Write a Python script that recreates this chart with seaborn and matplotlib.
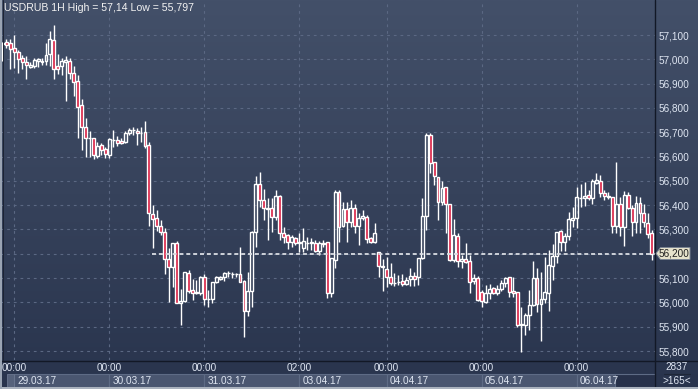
import numpy as np
import pandas as pd
import seaborn as sns
import matplotlib
matplotlib.use("Agg")
import matplotlib.pyplot as plt
from matplotlib.colors import LinearSegmentedColormap
from matplotlib.patches import Rectangle, Polygon
from matplotlib.transforms import blended_transform_factory

# ---------------- data (USDRUB, 1H candles) ----------------
opens = [57.065, 57.071, 57.066, 57.045, 57.029, 57.004, 56.988, 56.970, 56.974, 56.994,
         56.992, 56.994, 57.021, 57.079, 56.972, 56.972, 56.990, 56.992, 56.942, 56.911,
         56.812, 56.720, 56.676, 56.675, 56.602, 56.647, 56.631, 56.606, 56.668, 56.668,
         56.665, 56.661, 56.695, 56.709, 56.704, 56.696, 56.700, 56.647, 56.362, 56.346,
         56.314, 56.288, 56.177, 56.144, 56.243, 55.998, 56.005, 56.119, 56.051, 56.041,
         56.040, 56.103, 56.012, 56.012, 56.082, 56.096, 56.103, 56.119, 56.117, 56.116,
         56.116, 56.088, 55.965, 56.047, 56.291, 56.486, 56.421, 56.387, 56.387, 56.352,
         56.437, 56.286, 56.277, 56.247, 56.263, 56.246, 56.225, 56.246, 56.246, 56.245,
         56.212, 56.243, 56.247, 56.037, 56.174, 56.455, 56.314, 56.383, 56.332, 56.387,
         56.314, 56.346, 56.352, 56.263, 56.249, 56.206, 56.148, 56.136, 56.103, 56.081,
         56.084, 56.089, 56.075, 56.096, 56.108, 56.103, 56.181, 56.356, 56.688, 56.576,
         56.517, 56.414, 56.473, 56.403, 56.174, 56.273, 56.171, 56.177, 56.170, 56.089,
         56.099, 56.041, 56.001, 56.040, 56.058, 56.040, 56.055, 56.078, 56.103, 56.047,
         56.044, 55.909, 55.907, 55.948, 55.989, 56.099, 55.993, 56.014, 56.037, 56.149,
         56.191, 56.293, 56.247, 56.274, 56.339, 56.346, 56.430, 56.428, 56.440, 56.431,
         56.492, 56.499, 56.449, 56.436, 56.432, 56.315, 56.405, 56.311, 56.442, 56.387,
         56.329, 56.407, 56.366, 56.325, 56.284]
highs = [57.072, 57.084, 57.084, 57.100, 57.038, 57.018, 57.014, 56.990, 57.004, 57.007,
         57.007, 57.068, 57.116, 57.141, 57.021, 57.007, 57.014, 57.007, 56.972, 56.935,
         56.837, 56.757, 56.705, 56.676, 56.661, 56.657, 56.640, 56.677, 56.709, 56.684,
         56.677, 56.705, 56.716, 56.720, 56.717, 56.723, 56.746, 56.658, 56.400, 56.380,
         56.339, 56.305, 56.225, 56.243, 56.252, 56.055, 56.125, 56.133, 56.096, 56.092,
         56.108, 56.116, 56.051, 56.084, 56.109, 56.109, 56.126, 56.130, 56.126, 56.122,
         56.229, 56.092, 56.126, 56.292, 56.520, 56.537, 56.466, 56.428, 56.428, 56.462,
         56.442, 56.311, 56.280, 56.277, 56.270, 56.284, 56.305, 56.270, 56.263, 56.256,
         56.253, 56.256, 56.247, 56.181, 56.462, 56.462, 56.414, 56.414, 56.421, 56.405,
         56.366, 56.380, 56.359, 56.267, 56.325, 56.208, 56.177, 56.185, 56.163, 56.122,
         56.112, 56.116, 56.105, 56.140, 56.126, 56.181, 56.428, 56.695, 56.695, 56.576,
         56.517, 56.499, 56.473, 56.403, 56.342, 56.284, 56.195, 56.243, 56.195, 56.115,
         56.108, 56.051, 56.071, 56.074, 56.064, 56.071, 56.092, 56.105, 56.105, 56.103,
         56.044, 55.981, 55.955, 56.051, 56.170, 56.140, 56.124, 56.188, 56.215, 56.239,
         56.288, 56.298, 56.284, 56.370, 56.393, 56.476, 56.486, 56.494, 56.462, 56.507,
         56.533, 56.524, 56.462, 56.455, 56.435, 56.579, 56.432, 56.459, 56.455, 56.400,
         56.437, 56.435, 56.405, 56.369, 56.298]
lows = [56.994, 57.045, 56.959, 56.963, 56.942, 56.959, 56.919, 56.963, 56.965, 56.970,
        56.978, 56.977, 56.974, 56.920, 56.940, 56.935, 56.830, 56.919, 56.849, 56.675,
        56.627, 56.597, 56.597, 56.588, 56.593, 56.606, 56.593, 56.593, 56.640, 56.644,
        56.651, 56.657, 56.688, 56.688, 56.647, 56.661, 56.636, 56.315, 56.225, 56.295,
        56.277, 56.115, 56.002, 56.064, 55.996, 55.909, 56.003, 56.037, 56.009, 56.034,
        56.030, 55.989, 55.982, 55.997, 56.081, 56.092, 56.089, 56.105, 56.101, 56.105,
        56.084, 55.856, 55.945, 55.982, 56.229, 56.393, 56.339, 56.256, 56.291, 56.339,
        56.256, 56.245, 56.219, 56.229, 56.236, 56.208, 56.208, 56.215, 56.215, 56.208,
        56.195, 56.226, 56.018, 56.022, 56.141, 56.249, 56.309, 56.249, 56.309, 56.284,
        56.236, 56.339, 56.245, 56.245, 56.243, 56.103, 56.048, 56.064, 56.071, 56.067,
        56.071, 56.068, 56.071, 56.067, 56.067, 56.071, 56.177, 56.298, 56.533, 56.483,
        56.339, 56.400, 56.286, 56.171, 56.167, 56.147, 56.142, 56.163, 56.040, 56.075,
        56.005, 55.982, 55.998, 56.012, 56.034, 56.030, 56.048, 56.064, 56.023, 56.023,
        55.900, 55.797, 55.865, 55.886, 55.986, 55.961, 55.842, 55.996, 55.964, 56.092,
        56.161, 56.212, 56.211, 56.256, 56.311, 56.307, 56.391, 56.396, 56.421, 56.403,
        56.487, 56.435, 56.421, 56.424, 56.284, 56.286, 56.273, 56.232, 56.383, 56.273,
        56.286, 56.284, 56.311, 56.266, 56.174]
closes = [57.068, 57.060, 57.041, 57.029, 57.000, 56.990, 56.975, 56.977, 56.997, 57.001,
          56.990, 57.018, 57.084, 56.959, 56.959, 56.993, 56.997, 56.942, 56.908, 56.805,
          56.720, 56.675, 56.675, 56.606, 56.643, 56.627, 56.609, 56.672, 56.668, 56.657,
          56.657, 56.695, 56.709, 56.710, 56.695, 56.695, 56.644, 56.366, 56.343, 56.314,
          56.288, 56.177, 56.144, 56.243, 55.998, 56.005, 56.123, 56.047, 56.040, 56.040,
          56.105, 56.012, 56.013, 56.084, 56.105, 56.105, 56.119, 56.120, 56.116, 56.117,
          56.085, 55.965, 56.047, 56.291, 56.486, 56.421, 56.387, 56.386, 56.352, 56.437,
          56.284, 56.270, 56.249, 56.267, 56.243, 56.247, 56.252, 56.245, 56.247, 56.212,
          56.245, 56.242, 56.037, 56.181, 56.455, 56.311, 56.383, 56.332, 56.387, 56.314,
          56.346, 56.355, 56.259, 56.249, 56.286, 56.151, 56.146, 56.105, 56.081, 56.080,
          56.085, 56.075, 56.092, 56.108, 56.096, 56.181, 56.356, 56.688, 56.574, 56.520,
          56.414, 56.469, 56.403, 56.174, 56.277, 56.171, 56.177, 56.167, 56.085, 56.099,
          56.009, 56.005, 56.040, 56.055, 56.040, 56.055, 56.078, 56.099, 56.044, 56.037,
          55.909, 55.911, 55.948, 55.989, 56.099, 55.993, 56.012, 56.041, 56.153, 56.191,
          56.288, 56.247, 56.273, 56.343, 56.348, 56.432, 56.428, 56.437, 56.430, 56.499,
          56.503, 56.449, 56.437, 56.434, 56.315, 56.405, 56.311, 56.442, 56.387, 56.329,
          56.407, 56.366, 56.329, 56.280, 56.200]

price_ticks = [55.8, 55.9, 56.0, 56.1, 56.2, 56.3, 56.4, 56.5, 56.6, 56.7, 56.8, 56.9, 57.0, 57.1]
day_tick_idx = [3, 27, 51, 75, 97, 121, 145]
time_labels = ["00:00", "00:00", "00:00", "02:00", "00:00", "00:00", "00:00"]
date_labels = ["29.03.17", "30.03.17", "31.03.17", "03.04.17", "04.04.17", "05.04.17", "06.04.17"]
last_price = 56.200
title = "USDRUB 1H High = 57,14 Low = 55,797"
footer_top, footer_bottom = "2837", ">165<"

# ---------------- style ----------------
sns.set_theme(style="dark")
plt.rcParams["font.family"] = ["Liberation Sans", "DejaVu Sans"]

W, H = 698, 389
fig = plt.figure(figsize=(W / 100, H / 100), dpi=100)
fig.patch.set_facecolor("#3a465f")

# background gradient
bg = fig.add_axes([0, 0, 1, 1], zorder=0)
bg.axis("off")
cmap = LinearSegmentedColormap.from_list("g", ["#435069", "#29344d"])
bg.imshow(np.linspace(0, 1, 256).reshape(-1, 1), aspect="auto", cmap=cmap,
          extent=[0, 1, 0, 1], origin="upper")
bg.set_xlim(0, 1)
bg.set_ylim(0, 1)

AX_R = 655
ax = fig.add_axes([0, (H - 360) / H, AX_R / W, 360 / H], zorder=2)
ax.set_facecolor("none")
xlim = (-0.611, 164.79)
ax.set_xlim(*xlim)
ax.set_ylim(55.763, 57.244)

df = pd.DataFrame({"open": opens, "high": highs, "low": lows, "close": closes})
df["idx"] = np.arange(len(df))
df["top"] = df[["open", "close"]].max(axis=1)
df["bot"] = df[["open", "close"]].min(axis=1)
df["bull"] = df["close"] >= df["open"]

# grid
ax.set_yticks(price_ticks)
ax.set_yticklabels([f"{v:.3f}".replace(".", ",") for v in price_ticks])
ax.set_xticks(day_tick_idx)
ax.grid(True, color="#5b6883", lw=0.8, ls=(0, (2.5, 3.5)))
ax.yaxis.tick_right()
ax.tick_params(axis="y", length=0, pad=2.5, labelsize=7.2, labelcolor="#dfe6f2")
ax.tick_params(axis="x", length=0, labelbottom=False)
for s in ax.spines.values():
    s.set_visible(False)

# wicks (not through hollow bodies)
ax.vlines(df["idx"], df["low"], df["bot"], color="white", lw=1.0, zorder=3)
ax.vlines(df["idx"], df["top"], df["high"], color="white", lw=1.0, zorder=3)
# bodies
heights = (df["top"] - df["bot"]).clip(lower=0.0008)
fills = np.where(df["bull"], "none", "#d8183e")
ax.bar(df["idx"], heights, bottom=df["bot"], width=0.74, color=fills,
       edgecolor="white", linewidth=1.0, zorder=4)

# current price dotted line
ax.hlines(last_price, 37.8, xlim[1], color="#d9dce2", lw=1.3,
          linestyles=(0, (2.2, 1.6)), zorder=5)

# ---------------- bottom time strip ----------------
strip = fig.add_axes([0, 2 / H, AX_R / W, 27 / H], zorder=2)
strip.set_facecolor("#3b4760")
strip.set_xlim(*xlim)
strip.set_ylim(0, 1)
strip.axis("off")
tr = blended_transform_factory(strip.transData, strip.transAxes)
box_edges = day_tick_idx + [154.7]
for k in range(len(day_tick_idx)):
    strip.add_patch(Rectangle((box_edges[k], 0.0), box_edges[k + 1] - box_edges[k], 0.5,
                              transform=tr, facecolor="#4a5670", edgecolor="#5e6b85",
                              lw=0.8, zorder=1))
    strip.text(day_tick_idx[k], 0.70, time_labels[k], transform=tr, ha="center",
               va="center", fontsize=7.2, color="#dfe6f2", zorder=3)
    strip.text(day_tick_idx[k] + 0.8, 0.24, date_labels[k], transform=tr, ha="left",
               va="center", fontsize=7.2, color="#dfe6f2", zorder=3)
strip.add_patch(Rectangle((154.7, 0.0), xlim[1] - 154.7, 0.5, transform=tr,
                          facecolor="#27314a", edgecolor="#5e6b85", lw=0.8, zorder=1))
strip.add_patch(Rectangle((1.2, 0.0), 1.6, 0.5, transform=tr,
                          facecolor="#56627b", edgecolor="#6b7790", lw=0.6, zorder=2))

# ---------------- frame lines ----------------
def fx(px):
    return px / W

def fy(py):
    return 1 - py / H

fig.add_artist(plt.Line2D([fx(AX_R), fx(AX_R)], [0, 1], color="#121826", lw=1.0, zorder=6))
fig.add_artist(plt.Line2D([0, 1], [fy(360.5), fy(360.5)], color="#121826", lw=1.0, zorder=6))
fig.add_artist(Rectangle((0, 0), 1, 2 / H, transform=fig.transFigure,
                         facecolor="#aab2be", edgecolor="none", zorder=6))
fig.add_artist(Rectangle((0, 0), 2 / W, 1, transform=fig.transFigure,
                         facecolor="#9aa4b3", edgecolor="none", zorder=6))
fig.add_artist(plt.Line2D([fx(2.5), fx(2.5)], [fy(360), 1], color="#1c2333", lw=0.7, zorder=6))

# title
fig.text(fx(4), fy(3), title, ha="left", va="top", fontsize=7.6, color="#f2f2f2",
         family=["Liberation Sans Narrow", "Liberation Sans", "DejaVu Sans"], zorder=7)

# current price label on right axis
pts = [(656, 253.5), (660.5, 247.5), (690, 247.5), (690, 259.5), (660.5, 259.5)]
fig.add_artist(Polygon([(fx(a), fy(b)) for a, b in pts], closed=True,
                       transform=fig.transFigure, facecolor="#e6e3cc",
                       edgecolor="#7b8594", lw=0.7, zorder=8))
fig.text(fx(674), fy(253.5), f"{last_price:.3f}".replace(".", ","), ha="center",
         va="center", fontsize=7.2, color="#202020", zorder=9)

# bottom-right counters
fig.text(fx(677), fy(366.5), footer_top, ha="center", va="center", fontsize=7.2,
         color="#dfe6f2", zorder=7)
fig.add_artist(plt.Line2D([fx(664), fx(690)], [fy(373.5), fy(373.5)], color="#1f2738",
                          lw=0.8, zorder=7))
fig.text(fx(677), fy(381.5), footer_bottom, ha="center", va="center", fontsize=7.2,
         color="#dfe6f2", zorder=7)

fig.savefig("out.png", dpi=100)
